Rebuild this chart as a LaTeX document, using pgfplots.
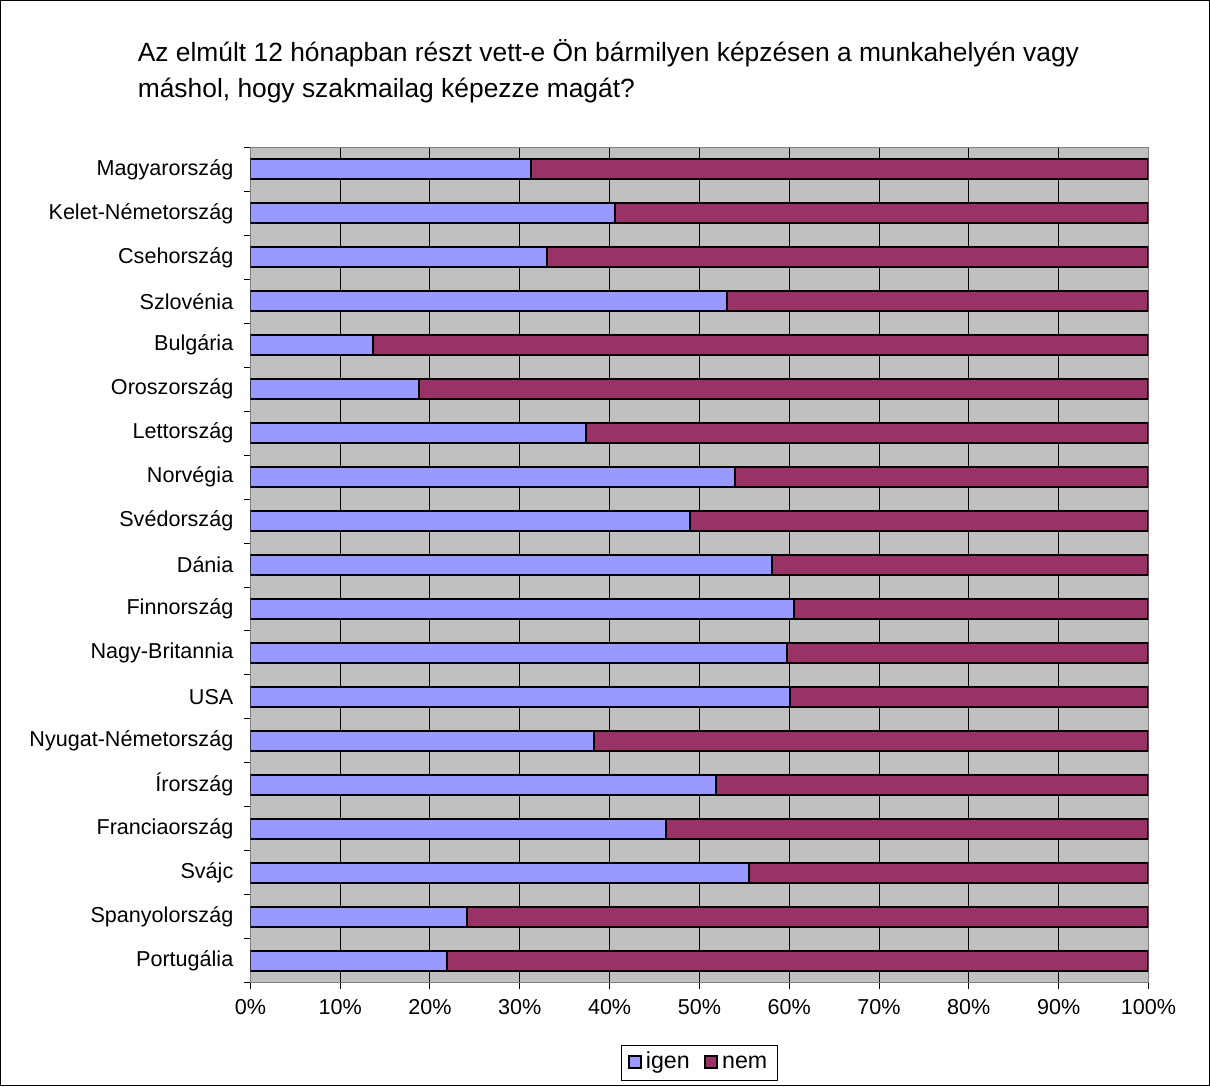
\documentclass[border=0pt]{standalone}
\usepackage{fontspec}
\setmainfont{Liberation Sans}
\usepackage{pgfplots}
\pgfplotsset{compat=1.18}
\usepackage{pgfplotstable}
\definecolor{igen}{HTML}{9999FF}
\definecolor{nem}{HTML}{993366}
\definecolor{bg}{HTML}{C0C0C0}
\definecolor{axgray}{HTML}{808080}
\pgfplotstableread{
y igen nem
0 21.9 78.1
1 24.1 75.9
2 55.5 44.5
3 46.3 53.7
4 51.8 48.2
5 38.3 61.7
6 60.1 39.9
7 59.7 40.3
8 60.5 39.5
9 58.1 41.9
10 49.0 51.0
11 54.0 46.0
12 37.4 62.6
13 18.8 81.2
14 13.7 86.3
15 53.1 46.9
16 33.0 67.0
17 40.6 59.4
18 31.3 68.7
}\data
\begin{document}
\begin{tikzpicture}
\draw[black, line width=0.6pt, fill=white] (0,0) rectangle (605pt,543pt);
\node[anchor=base west, inner sep=0pt, font=\fontsize{13.2}{15}\selectfont] at (68.5pt,512.5pt) {Az elmúlt 12 hónapban részt vett-e Ön bármilyen képzésen a munkahelyén vagy};
\node[anchor=base west, inner sep=0pt, font=\fontsize{13.2}{15}\selectfont] at (68.5pt,494.5pt) {máshol, hogy szakmailag képezze magát?};
\begin{axis}[
  at={(125pt,51.5pt)}, anchor=south west,
  scale only axis, width=449.5pt, height=418pt,
  xbar stacked, bar width=10pt,
  xmin=0, xmax=100, ymin=-0.5, ymax=18.5,
  axis background/.style={fill=bg},
  axis line style={axgray, line width=0.6pt},
  xtick={0,10,...,100},
  xticklabel={\pgfmathprintnumber{\tick}\%},
  /pgf/number format/assume math mode=true,
  ytick={-0.5,0.5,...,18.5},
  yticklabels={Portugália,Spanyolország,Svájc,Franciaország,Írország,Nyugat-Németország,USA,Nagy-Britannia,Finnország,Dánia,Svédország,Norvégia,Lettország,Oroszország,Bulgária,Szlovénia,Csehország,Kelet-Németország,Magyarország,{}},
  yticklabel style={yshift=11pt, xshift=-2pt, font=\fontsize{10.8}{12}\selectfont},
  xticklabel style={yshift=-2pt, font=\fontsize{10.8}{12}\selectfont},
  tick pos=left,
  tick align=outside, major tick length=3pt,
  tick style={black, line width=0.5pt},
  xmajorgrids, ymajorgrids=false,
  major grid style={black, line width=0.5pt},
  legend style={at={(axis description cs:0.5,-0.0963)}, anchor=center,
    legend columns=2, draw=black, line width=0.5pt,
    font=\fontsize{11.6}{13}\selectfont, inner xsep=3pt, inner ysep=2pt,
    /tikz/every odd column/.append style={column sep=0pt},
    /tikz/every even column/.append style={column sep=5pt},
    nodes={inner xsep=2pt, text height=0.75em, text depth=0.22em}},
  legend image code/.code={\draw[#1, line width=1pt] (0pt,-2.6pt) rectangle (6.2pt,3.6pt);},
]
\addplot[fill=igen, draw=black, line width=1pt] table[x=igen, y=y] {\data};
\addplot[fill=nem, draw=black, line width=1pt] table[x=nem, y=y] {\data};
\legend{igen,nem}
\end{axis}
\end{tikzpicture}
\end{document}
